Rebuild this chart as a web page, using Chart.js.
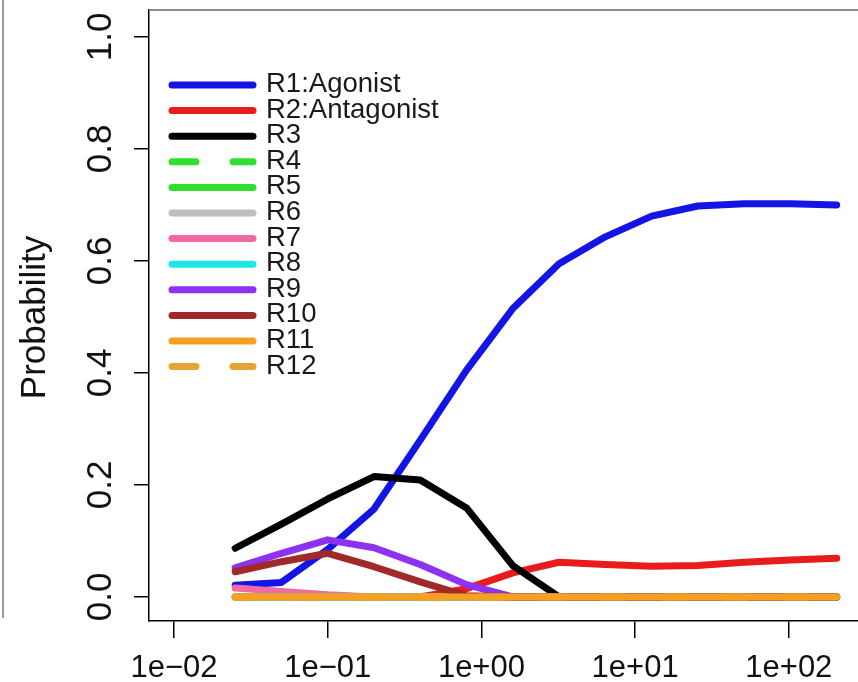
<!DOCTYPE html>
<html>
<head>
<meta charset="utf-8">
<script src="https://cdn.jsdelivr.net/npm/chart.js@4.4.1/dist/chart.umd.min.js"></script>
<style>
  html, body { margin: 0; padding: 0; background: #fff; }
  #wrap { position: relative; width: 858px; height: 682px; }
  #edge { position: absolute; left: 2px; top: 0; width: 2px; height: 618px; background: #9a9a9a; }
  canvas { position: absolute; left: 0; top: 0; }
</style>
</head>
<body>
<div id="wrap">
  <div id="edge"></div>
  <canvas id="chart" width="858" height="682"></canvas>
</div>
<script>
// ── Data ──────────────────────────────────────────────────────────────────────

const conc = [0.025, 0.05, 0.1, 0.2, 0.4, 0.8, 1.6, 3.2, 6.4, 12.8, 25.6, 51.2, 102.4, 204.8];

const r1  = [0.021, 0.026, 0.085, 0.157, 0.28, 0.405, 0.515, 0.595, 0.643, 0.68, 0.698, 0.702, 0.702, 0.700];
const r2  = [0, 0, 0, 0, 0, 0.015, 0.043, 0.062, 0.058, 0.055, 0.056, 0.062, 0.066, 0.069];
const r3  = [0.087, 0.13, 0.175, 0.215, 0.209, 0.159, 0.056, 0, 0, 0, 0, 0, 0, 0];
const r4  = [0, 0, 0, 0, 0, 0, 0, 0, 0, 0, 0, 0, 0, 0];
const r5  = [0, 0, 0, 0, 0, 0, 0, 0, 0, 0, 0, 0, 0, 0];
const r6  = [0, 0, 0, 0, 0, 0, 0, 0, 0, 0, 0, 0, 0, 0];
const r7  = [0.016, 0.01, 0.004, 0, 0, 0, 0, 0, 0, 0, 0, 0, 0, 0];
const r8  = [0, 0, 0, 0, 0, 0, 0, 0, 0, 0, 0, 0, 0, 0];
const r9  = [0.052, 0.078, 0.102, 0.088, 0.058, 0.022, 0, 0, 0, 0, 0, 0, 0, 0];
const r10 = [0.045, 0.063, 0.078, 0.054, 0.027, 0.002, 0, 0, 0, 0, 0, 0, 0, 0];
const r11 = [0, 0, 0, 0, 0, 0, 0, 0, 0, 0, 0, 0, 0, 0];
const r12 = [0, 0, 0, 0, 0, 0, 0, 0, 0, 0, 0, 0, 0, 0];

const seriesNames = ["R1:Agonist", "R2:Antagonist", "R3", "R4", "R5", "R6",
                     "R7", "R8", "R9", "R10", "R11", "R12"];
const seriesData  = [r1, r2, r3, r4, r5, r6, r7, r8, r9, r10, r11, r12];
const seriesColor = ["#1414e6", "#e81c1c", "#000000", "#2fe02f", "#2fe02f", "#bebebe",
                     "#f06aa4", "#1ee6e6", "#8c32f0", "#a02a2a", "#f5a020", "#e6a436"];
const dashed      = [false, false, false, true, false, false,
                     false, false, false, false, false, true];

const xTicks      = [0.01, 0.1, 1, 10, 100];
const xTickLabels = ["1e\u221202", "1e\u221201", "1e+00", "1e+01", "1e+02"];
const yTicks      = [0, 0.2, 0.4, 0.6, 0.8, 1.0];
const yTickLabels = ["0.0", "0.2", "0.4", "0.6", "0.8", "1.0"];
const yTitle      = "Probability";

// ── Style ─────────────────────────────────────────────────────────────────────

const FONT = "'Liberation Sans', Arial, Helvetica, sans-serif";
const LINE_W = 7;
const DASH = [24, 37];

// ── Plugins ───────────────────────────────────────────────────────────────────

// R-style extras: top box line, rotated y labels, axis title, inset legend
const rStyle = {
  id: "rStyle",
  afterDraw(chart) {
    const { ctx, chartArea: a, scales } = chart;
    ctx.save();

    // top edge of the plot box
    ctx.strokeStyle = "#8c8c8c";
    ctx.lineWidth = 2;
    ctx.beginPath();
    ctx.moveTo(a.left, a.top);
    ctx.lineTo(a.right, a.top);
    ctx.stroke();

    // y tick labels, rotated like R's las=0
    ctx.fillStyle = "#111";
    ctx.font = `35px ${FONT}`;
    ctx.textAlign = "center";
    ctx.textBaseline = "alphabetic";
    yTicks.forEach((v, i) => {
      const py = scales.y.getPixelForValue(v);
      ctx.save();
      ctx.translate(a.left - 38, py);
      ctx.rotate(-Math.PI / 2);
      ctx.fillText(yTickLabels[i], 0, 0);
      ctx.restore();
    });

    // axis title
    ctx.save();
    ctx.translate(45, (a.top + a.bottom) / 2 + 2);
    ctx.rotate(-Math.PI / 2);
    ctx.fillText(yTitle, 0, 0);
    ctx.restore();

    // legend
    const lx = a.left + 23, lw = 81, tx = a.left + 117;
    ctx.font = `27.5px ${FONT}`;
    ctx.textAlign = "left";
    ctx.lineCap = "round";
    chart.data.datasets.forEach((ds, i) => {
      const y = a.top + 75 + i * 25.6;
      ctx.strokeStyle = ds.borderColor;
      ctx.lineWidth = LINE_W;
      ctx.setLineDash(ds.borderDash || []);
      ctx.beginPath();
      ctx.moveTo(lx, y);
      ctx.lineTo(lx + lw, y);
      ctx.stroke();
      ctx.setLineDash([]);
      ctx.fillStyle = "#1a1a1a";
      ctx.fillText(ds.label, tx, y + 7);
    });

    ctx.restore();
  },
};

// ── Chart ─────────────────────────────────────────────────────────────────────

const datasets = seriesNames.map((name, i) => ({
  label: name,
  data: conc.map((x, j) => ({ x, y: seriesData[i][j] })),
  borderColor: seriesColor[i],
  borderWidth: LINE_W,
  borderDash: dashed[i] ? DASH : [],
  borderCapStyle: "round",
  borderJoinStyle: "round",
  pointRadius: 0,
  tension: 0,
  fill: false,
  // later series on top, like R; the solid orange baseline ends up topmost
  order: name === "R11" ? 0 : seriesNames.length - i,
}));

new Chart(document.getElementById("chart"), {
  type: "line",
  data: { datasets },
  plugins: [rStyle],
  options: {
    responsive: false,
    animation: false,
    events: [],
    layout: { padding: { top: 10, right: 0, left: 0, bottom: 0 } },
    plugins: { legend: { display: false }, tooltip: { enabled: false } },
    scales: {
      x: {
        type: "logarithmic",
        min: Math.pow(10, -2.1627),
        max: Math.pow(10, 2.450),
        afterBuildTicks: s => { s.ticks = xTicks.map(v => ({ value: v })); },
        afterFit: s => { s.height = 61; },
        ticks: {
          autoSkip: false,
          maxRotation: 0,
          padding: 12,
          color: "#111",
          font: { family: FONT, size: 31 },
          callback: (v, i) => xTickLabels[i],
        },
        grid: { drawOnChartArea: false, drawTicks: true, tickLength: 17, color: "#000", lineWidth: 1.5 },
        border: { display: true, color: "#000", width: 1.5 },
      },
      y: {
        type: "linear",
        min: -0.0429,
        max: 1.048,
        afterBuildTicks: s => { s.ticks = yTicks.map(v => ({ value: v })); },
        afterFit: s => { s.width = 149; },
        ticks: { display: false },
        grid: { drawOnChartArea: false, drawTicks: true, tickLength: 15, color: "#000", lineWidth: 1.5 },
        border: { display: true, color: "#000", width: 1.5 },
      },
    },
  },
});
</script>
</body>
</html>
